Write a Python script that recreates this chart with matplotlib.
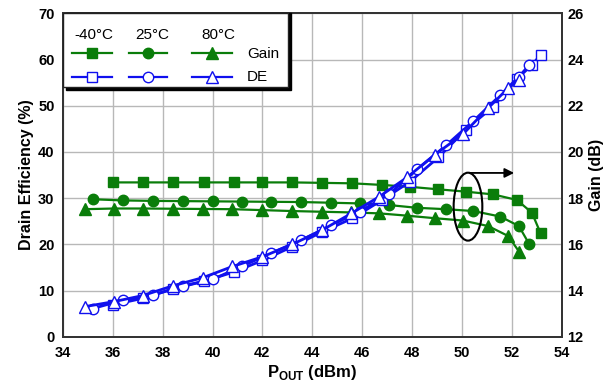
import matplotlib
matplotlib.use("Agg")
import matplotlib.pyplot as plt
from matplotlib.patches import Ellipse, Rectangle
from matplotlib.lines import Line2D

plt.rcParams["font.family"] = ["Liberation Sans", "DejaVu Sans"]

# ---------- data ----------
temps = ["-40°C", "25°C", "80°C"]

pout_m40 = [36.0, 37.2, 38.4, 39.65, 40.85, 42.0, 43.2, 44.4, 45.6, 46.8, 47.9,
            49.05, 50.15, 51.25, 52.2, 52.8, 53.15]
gain_m40 = [18.68, 18.68, 18.68, 18.68, 18.68, 18.68, 18.68, 18.66, 18.64, 18.57,
            18.49, 18.38, 18.28, 18.16, 17.92, 17.37, 16.48]
de_m40 = [6.9, 8.3, 10.3, 12.0, 14.0, 16.5, 19.5, 22.7, 25.6, 29.6, 33.5, 38.8,
          44.8, 49.8, 55.8, 58.8, 61.0]

pout_25 = [35.2, 36.4, 37.6, 38.8, 40.0, 41.2, 42.35, 43.55, 44.75, 45.9, 47.07,
           48.2, 49.36, 50.46, 51.54, 52.28, 52.7]
gain_25 = [17.95, 17.9, 17.88, 17.87, 17.86, 17.85, 17.84, 17.83, 17.8, 17.77,
           17.7, 17.58, 17.52, 17.44, 17.2, 16.79, 16.0]
de_25 = [6.1, 7.9, 9.0, 11.0, 12.4, 15.3, 18.1, 20.9, 24.1, 27.1, 30.8, 36.2,
         41.4, 46.7, 52.3, 56.3, 58.8]

pout_80 = [34.87, 36.05, 37.2, 38.4, 39.62, 40.8, 42.0, 43.2, 44.37, 45.57, 46.68,
           47.8, 48.91, 50.03, 51.05, 51.85, 52.29]
gain_80 = [17.52, 17.55, 17.55, 17.54, 17.53, 17.52, 17.48, 17.44, 17.41, 17.38,
           17.34, 17.24, 17.13, 17.03, 16.79, 16.36, 15.68]
de_80 = [6.5, 7.6, 8.9, 11.0, 12.8, 15.2, 17.3, 20.0, 23.0, 26.7, 30.3, 34.5,
         39.4, 43.8, 49.5, 53.8, 55.6]

x_ticks = list(range(34, 55, 2))
de_ticks = list(range(0, 71, 10))
gain_ticks = list(range(12, 27, 2))

GREEN = "#0a7d0a"
BLUE = "#1010ee"
markers = ["s", "o", "^"]
msizes = [7, 7.5, 8]

fig = plt.figure(figsize=(6.16, 3.89), dpi=100)
ax = fig.add_axes([0.102, 0.1344, 0.810, 0.8314])
ax2 = ax.twinx()
ax2.set_zorder(ax.get_zorder() - 1)
ax.patch.set_visible(False)

series = [(pout_m40, gain_m40, de_m40), (pout_25, gain_25, de_25), (pout_80, gain_80, de_80)]
for (px, g, d), m, ms in zip(series, markers, msizes):
    ax2.plot(px, g, color=GREEN, lw=1.6, marker=m, ms=ms, mfc=GREEN, mec=GREEN, zorder=3)
for (px, g, d), m, ms in zip(series, markers, msizes):
    ax.plot(px, d, color=BLUE, lw=2.0, marker=m, ms=ms, mfc="white", mec=BLUE,
            mew=1.0, zorder=3)

ax.set_xlim(34, 54)
ax.set_ylim(0, 70)
ax2.set_ylim(12, 26)
ax.set_xticks(x_ticks)
ax.set_yticks(de_ticks)
ax2.set_yticks(gain_ticks)

# grid lives on the lower (gain) axes so the curves sit above it
ax2.grid(True, axis="y", color="#b8b8b8", lw=1.0)
ax.grid(False)
for xv in x_ticks:
    ax2.axvline(xv, color="#b8b8b8", lw=1.0, zorder=0)

for a in (ax, ax2):
    a.tick_params(length=0, labelsize=10.5, pad=4)
    for s in a.spines.values():
        s.set_linewidth(1.3)
        s.set_color("#333333")
ax.tick_params(axis="x", pad=7)
ax.tick_params(axis="y", pad=6)
for lab in ax.get_xticklabels() + ax.get_yticklabels() + ax2.get_yticklabels():
    lab.set_fontweight("bold")

ax.set_xlabel(r"P$_{\mathregular{OUT}}$ (dBm)", fontsize=12, fontweight="bold", labelpad=2)
ax.set_ylabel("Drain Efficiency (%)", fontsize=11.5, fontweight="bold", labelpad=3)
ax2.set_ylabel("Gain (dB)", fontsize=11.5, fontweight="bold", labelpad=4)

# ellipse + arrow pointing to the gain axis
ax2.add_patch(Ellipse((50.24, 17.63), 1.15, 2.94, fill=False, ec="black", lw=1.5, zorder=5))
ax2.annotate("", xy=(52.2, 19.09), xytext=(50.2, 19.09),
             arrowprops=dict(arrowstyle="-|>", color="black", lw=1.3,
                             mutation_scale=14), zorder=5)

# custom legend box
t = ax.transAxes
ax.add_patch(Rectangle((0.006, 0.763), 0.451, 0.237, transform=t, fc="black",
                       ec="black", zorder=6, clip_on=False))
ax.add_patch(Rectangle((0.0, 0.772), 0.451, 0.228, transform=t, fc="white",
                       ec="#222222", lw=1.0, zorder=7, clip_on=False))
hdr_x = [0.062, 0.180, 0.311]
mk_x = [0.058, 0.170, 0.299]
half = [0.040, 0.038, 0.040]
for lbl, hx, mx, hw, m, ms in zip(temps, hdr_x, mk_x, half, markers, msizes):
    ax.text(hx, 0.933, lbl, transform=t, ha="center", va="center", fontsize=11, zorder=8)
    ax.add_line(Line2D([mx - hw, mx + hw], [0.876, 0.876], transform=t, color=GREEN,
                       lw=1.6, zorder=8))
    ax.add_line(Line2D([mx], [0.876], transform=t, marker=m, ms=ms, mfc=GREEN,
                       mec=GREEN, zorder=9))
    ax.add_line(Line2D([mx - hw, mx + hw], [0.804, 0.804], transform=t, color=BLUE,
                       lw=1.6, zorder=8))
    ax.add_line(Line2D([mx], [0.804], transform=t, marker=m, ms=ms, mfc="white",
                       mec=BLUE, mew=1.0, zorder=9))
ax.text(0.369, 0.874, "Gain", transform=t, ha="left", va="center", fontsize=11, zorder=8)
ax.text(0.369, 0.802, "DE", transform=t, ha="left", va="center", fontsize=11, zorder=8)

fig.savefig("out.png", dpi=100)
